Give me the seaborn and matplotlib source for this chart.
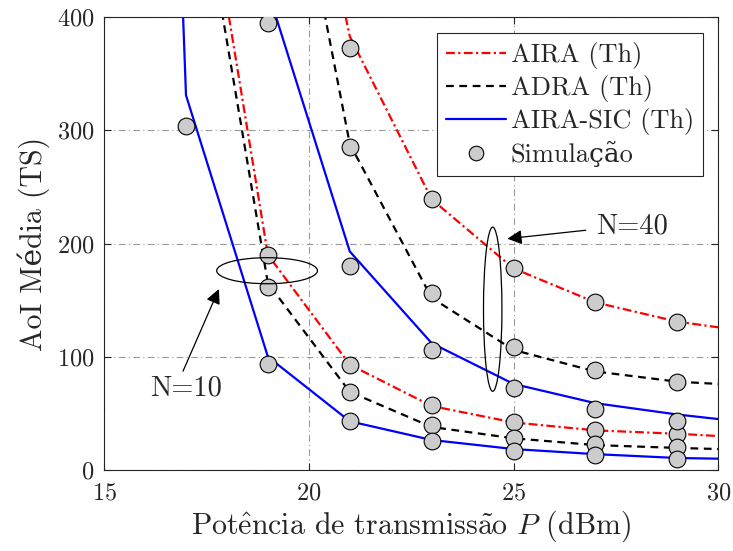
import matplotlib
matplotlib.use("Agg")
import matplotlib.pyplot as plt
from matplotlib.patches import Ellipse
from matplotlib.lines import Line2D
import seaborn as sns
import pandas as pd

# theoretical curves (computed at odd powers, clipped by the axis limits)
x_th = [15, 17, 19, 21, 23, 25, 27, 29, 31]
aira_n10 = [1500, 632, 190, 93, 56.5, 42, 35, 32, 28]
adra_n10 = [1400, 592, 165, 69, 38, 28, 22, 19.5, 17.5]
sic_n10 = [2300, 331, 100, 43, 26.5, 18.5, 14, 10.6, 9.4]
aira_n40 = [3000, 1500, 723, 383, 239, 178, 148, 131, 121]
adra_n40 = [3000, 1400, 661, 288, 152, 106, 87, 78, 74]
sic_n40 = [3000, 1200, 423, 193, 112, 76, 59, 49, 41]

# simulation points
sim_aira_n10_x = [19, 21, 23, 25, 27, 29]
sim_aira_n10 = [190, 93, 57, 42, 35, 32]
sim_adra_n10_x = [19, 21, 23, 25, 27, 29]
sim_adra_n10 = [162, 69, 40, 28, 23, 20]
sim_sic_n10_x = [17, 19, 21, 23, 25, 27, 29]
sim_sic_n10 = [304, 94, 43, 26, 17, 13, 10]
sim_aira_n40_x = [21, 23, 25, 27, 29]
sim_aira_n40 = [373, 239, 178, 148, 131]
sim_adra_n40_x = [21, 23, 25, 27, 29]
sim_adra_n40 = [285, 156, 109, 88, 78]
sim_sic_n40_x = [19, 21, 23, 25, 27, 29]
sim_sic_n40 = [395, 180, 106, 72, 54, 43]

labels = ["AIRA (Th)", "ADRA (Th)", "AIRA-SIC (Th)", "Simulação"]

sns.set_style("ticks")
plt.rcParams["font.family"] = ["cmr10", "DejaVu Serif"]
plt.rcParams["mathtext.fontset"] = "cm"
plt.rcParams["axes.formatter.use_mathtext"] = True

fig = plt.figure(figsize=(7.33, 5.51), dpi=100)
ax = fig.add_axes([0.142, 0.147, 0.838, 0.822])

red_ls = (0, (4, 1.5, 1, 1.5))
black_ls = (0, (3.5, 2.5))
styles = [
    ("red", red_ls, aira_n10, aira_n40),
    ("black", black_ls, adra_n10, adra_n40),
    ("blue", "-", sic_n10, sic_n40),
]
for color, ls, y10, y40 in styles:
    for yy in (y10, y40):
        df = pd.DataFrame({"x": x_th, "y": yy})
        sns.lineplot(data=df, x="x", y="y", ax=ax, color=color, lw=1.6,
                     linestyle=ls, zorder=2, legend=False)

sims = [
    (sim_aira_n10_x, sim_aira_n10), (sim_adra_n10_x, sim_adra_n10),
    (sim_sic_n10_x, sim_sic_n10), (sim_aira_n40_x, sim_aira_n40),
    (sim_adra_n40_x, sim_adra_n40), (sim_sic_n40_x, sim_sic_n40),
]
for sx, sy in sims:
    sns.scatterplot(x=sx, y=sy, ax=ax, s=145, color="#cccccc",
                    edgecolor="black", linewidth=0.8, zorder=3, legend=False)

ax.set_xlim(15, 30)
ax.set_ylim(0, 400)
ax.set_xticks([15, 20, 25, 30])
ax.set_yticks([0, 100, 200, 300, 400])
ax.grid(True, color="#999999", linestyle=(0, (6, 3, 1, 3)), lw=0.8)
ax.tick_params(direction="in", top=True, right=True, labelsize=17.5, length=5)
ax.tick_params(axis="x", pad=9)
ax.tick_params(axis="y", pad=7)
for sp in ax.spines.values():
    sp.set_visible(True)
    sp.set_color("#262626")
    sp.set_linewidth(0.8)

ax.set_xlabel(r"Pot$\hat{\mathrm{e}}$ncia de transmiss$\tilde{\mathrm{a}}$o $P$ (dBm)",
              fontsize=21.5, labelpad=3)
ax.set_ylabel("AoI Média (TS)", fontsize=21.5, labelpad=5)

# annotations
ax.add_patch(Ellipse((18.98, 176), 2.46, 23, fill=False, ec="black", lw=0.9, zorder=4))
ax.add_patch(Ellipse((24.49, 142), 0.45, 145, fill=False, ec="black", lw=0.9, zorder=4))
arrow = dict(arrowstyle="-|>", color="black", lw=0.9, mutation_scale=22)
ax.annotate("", xy=(17.83, 162), xytext=(16.9, 85), arrowprops=arrow)
ax.text(16.12, 72, "N=10", fontsize=20.5, va="center", ha="left")
ax.annotate("", xy=(24.78, 204), xytext=(26.83, 212), arrowprops=arrow)
ax.text(27.02, 215, "N=40", fontsize=20.5, va="center", ha="left")

handles = [
    Line2D([], [], color="red", lw=1.6, linestyle=red_ls),
    Line2D([], [], color="black", lw=1.6, linestyle=black_ls),
    Line2D([], [], color="blue", lw=1.6),
    Line2D([], [], lw=0, marker="o", markersize=10.5, markerfacecolor="#cccccc",
           markeredgecolor="black", markeredgewidth=0.8),
]
leg = ax.legend(handles, labels, loc="upper right", fontsize=19, frameon=True,
                fancybox=False, edgecolor="#262626", framealpha=1,
                handlelength=2.25, handletextpad=0.2, labelspacing=0.22,
                borderpad=0.35, borderaxespad=0, bbox_to_anchor=(0.9756, 0.9647))
leg.get_frame().set_linewidth(0.8)

fig.savefig("out.png", dpi=100)
